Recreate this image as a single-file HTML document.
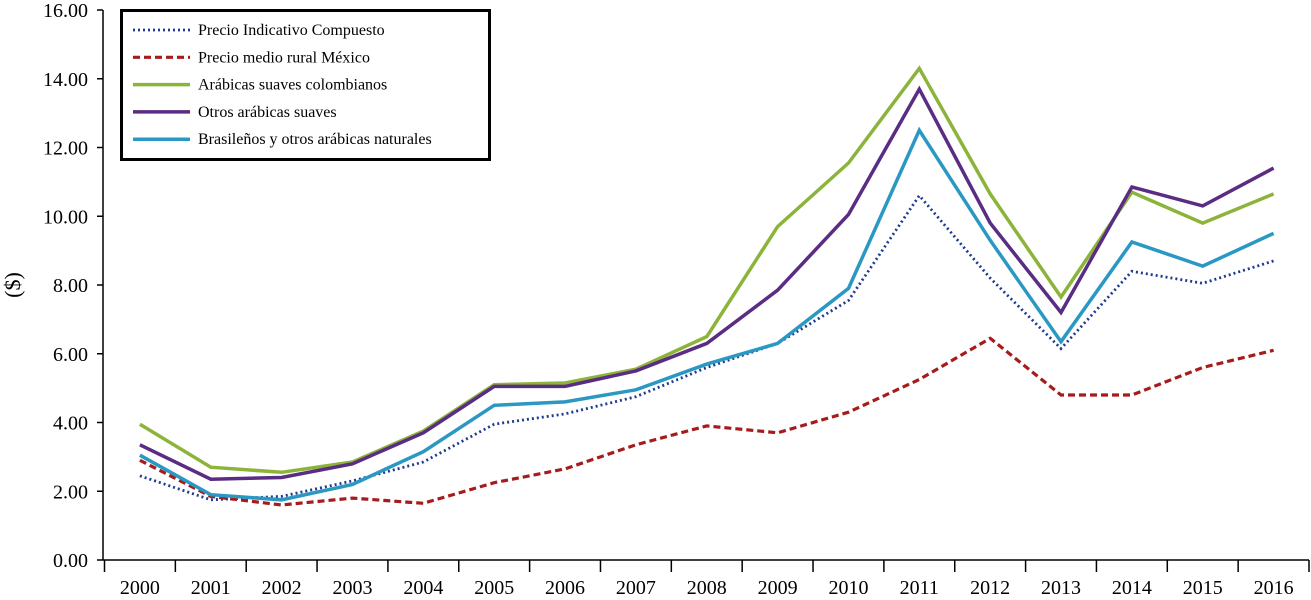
<!DOCTYPE html>
<html><head><meta charset="utf-8"><style>
html,body{margin:0;padding:0;background:#fff;}
svg{display:block;font-family:"Liberation Serif",serif;}
</style></head><body>
<svg id="chart" width="1311" height="600" viewBox="0 0 1311 600" xmlns="http://www.w3.org/2000/svg">
<g id="axes"></g>
<g id="series"></g>
<g id="legend"></g>
</svg>
<script>
const years = ["2000","2001","2002","2003","2004","2005","2006","2007","2008","2009","2010","2011","2012","2013","2014","2015","2016"];
const yTicks = [0,2,4,6,8,10,12,14,16];
const precioIndicativo = [2.45,1.75,1.85,2.3,2.85,3.95,4.25,4.75,5.6,6.3,7.55,10.6,8.2,6.15,8.4,8.05,8.7];
const precioMexico = [2.9,1.85,1.6,1.8,1.65,2.25,2.65,3.35,3.9,3.7,4.3,5.25,6.45,4.8,4.8,5.6,6.1];
const colombianos = [3.95,2.7,2.55,2.85,3.75,5.1,5.15,5.55,6.5,9.7,11.55,14.3,10.65,7.65,10.7,9.8,10.65];
const otrosArabicas = [3.35,2.35,2.4,2.8,3.7,5.05,5.05,5.5,6.3,7.85,10.05,13.7,9.8,7.2,10.85,10.3,11.4];
const brasilenos = [3.05,1.9,1.75,2.2,3.15,4.5,4.6,4.95,5.7,6.3,7.9,12.5,9.3,6.35,9.25,8.55,9.5];
const seriesNames = ["Precio Indicativo Compuesto","Precio medio rural México","Arábicas suaves colombianos","Otros arábicas suaves","Brasileños y otros arábicas naturales"];

const NS="http://www.w3.org/2000/svg";
const plotLeft=104.5,plotRight=1309,plotTop=10,plotBottom=560,yMax=16;
const band=(plotRight-plotLeft)/years.length;
const xs=i=>plotLeft+band*(i+0.5);
const ys=v=>plotBottom-(v/yMax)*(plotBottom-plotTop);
function mk(tag,attrs,parent){const el=document.createElementNS(NS,tag);for(const k in attrs)el.setAttribute(k,attrs[k]);parent.appendChild(el);return el;}
const axes=document.getElementById('axes');
let el;
el=mk('line',{x1:103,y1:plotTop,x2:103,y2:plotBottom,stroke:'#000','stroke-width':1.5},axes);


el=mk('line',{x1:103,y1:plotBottom,x2:plotRight,y2:plotBottom,stroke:'#000','stroke-width':1.5},axes);


yTicks.forEach(t=>{
  el=mk('line',{x1:97,y1:ys(t),x2:103,y2:ys(t),stroke:'#000','stroke-width':1.5},axes);
  
  
  el=mk('text',{x:88,y:ys(t)+7,'text-anchor':'end','font-size':20},axes);el.textContent=t.toFixed(2);
  
  
});
for(let i=0;i<=years.length;i++){
  el=mk('line',{x1:plotLeft+band*i,y1:plotBottom,x2:plotLeft+band*i,y2:plotBottom+12,stroke:'#000','stroke-width':1.5},axes);
  
  
}
years.forEach((yr,i)=>{
  el=mk('text',{x:xs(i),y:594,'text-anchor':'middle','font-size':20},axes);el.textContent=yr;
  
  
});
el=mk('text',{x:20,y:285,'text-anchor':'middle','font-size':22,transform:'rotate(-90 20 285)'},axes);el.textContent='($)';



const styles=[
 {data:precioIndicativo,color:'#1f3a8f',dash:'2,3',w:2.8,name:'line-precio-indicativo'},
 {data:precioMexico,color:'#a61c1c',dash:'7,4',w:3.2,name:'line-precio-mexico'},
 {data:colombianos,color:'#8cb43a',dash:'',w:3.5,name:'line-colombianos'},
 {data:otrosArabicas,color:'#5b2c83',dash:'',w:3.5,name:'line-otros-arabicas'},
 {data:brasilenos,color:'#2a98c2',dash:'',w:3.5,name:'line-brasilenos'}
];
const seriesG=document.getElementById('series');
styles.forEach(s=>{
  const pts=s.data.map((v,i)=>xs(i).toFixed(1)+','+ys(v).toFixed(1)).join(' ');
  const a={points:pts,fill:'none',stroke:s.color,'stroke-width':s.w,'stroke-linejoin':'miter'};
  if(s.dash)a['stroke-dasharray']=s.dash;
  el=mk('polyline',a,seriesG);
  
  
});
const legendG=document.getElementById('legend');
el=mk('rect',{x:121.5,y:10.5,width:368,height:149,fill:'#fff',stroke:'#000','stroke-width':3},legendG);


styles.forEach((s,i)=>{
  const ly=30+i*27.3;
  const a={x1:133,y1:ly,x2:190,y2:ly,stroke:s.color,'stroke-width':s.w};
  if(s.dash)a['stroke-dasharray']=s.dash;
  el=mk('line',a,legendG);
  
  
  el=mk('text',{x:198,y:ly+5,'font-size':16},legendG);el.textContent=seriesNames[i];
  
  
});
</script>
</body></html>
